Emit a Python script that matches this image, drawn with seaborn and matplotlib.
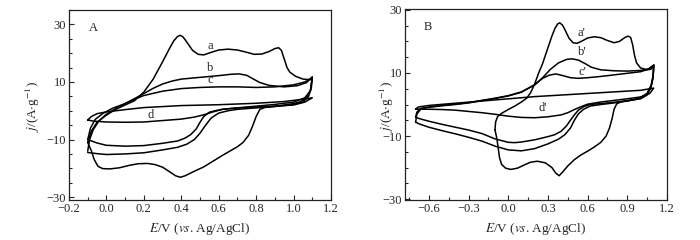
import numpy as np
import pandas as pd
import seaborn as sns
import matplotlib.pyplot as plt
from matplotlib.ticker import MultipleLocator, FixedLocator

# Panel A curves (closed CV loops: anodic sweep then cathodic sweep)
a_x = [-0.1, -0.08, -0.05, 0.0, 0.05, 0.1, 0.15, 0.2, 0.25, 0.3, 0.34, 0.36, 0.38, 0.395, 0.41, 0.43,
       0.46, 0.49, 0.52, 0.56, 0.6, 0.65, 0.7, 0.75, 0.79, 0.83, 0.87, 0.9, 0.92, 0.935, 0.95, 0.965,
       0.98, 1.01, 1.05, 1.09, 1.1,
       1.095, 1.08, 1.05, 1.0, 0.95, 0.9, 0.85, 0.82, 0.8, 0.78, 0.76, 0.73, 0.7, 0.66, 0.62, 0.57,
       0.52, 0.47, 0.42, 0.395, 0.37, 0.34, 0.3, 0.26, 0.22, 0.17, 0.12, 0.07, 0.02, -0.02, -0.045,
       -0.065, -0.08, -0.1]
a_y = [-11, -7, -4, -1.5, 0.5, 2, 3.5, 6.5, 11, 17, 22, 24.3, 25.8, 26.2, 25.6, 23.8,
       21, 19.6, 19.4, 20.3, 21.1, 21.4, 21.1, 20.3, 19.6, 19.7, 20.6, 21.6, 21.9, 21, 18, 15,
       13.4, 12, 11, 10.8, 11.5,
       8, 5, 3, 2.2, 1.8, 1.5, 1.2, 0.5, -2, -5.5, -8.5, -11, -12.5, -14, -15.5, -17.5,
       -19.5, -21, -22.6, -23.1, -22.6, -21.3, -19.6, -18.7, -18.3, -18.4, -19, -19.8, -20.2, -20.1, -19.3,
       -17, -14, -11]

b_x = [-0.1, -0.09, -0.07, -0.04, 0.0, 0.05, 0.1, 0.15, 0.2, 0.25, 0.3, 0.35, 0.4, 0.5, 0.6, 0.67,
       0.71, 0.75, 0.78, 0.82, 0.87, 0.95, 1.02, 1.07, 1.1,
       1.09, 1.07, 1.04, 1.0, 0.9, 0.8, 0.7, 0.65, 0.6, 0.56, 0.53, 0.5, 0.47, 0.43, 0.38, 0.3, 0.2,
       0.1, 0.0, -0.05, -0.1]
b_y = [-14, -10, -6.5, -3.5, -1.2, 0.8, 2.5, 4.2, 6, 7.8, 9.3, 10.3, 11, 11.6, 12.2, 12.7,
       12.8, 12.3, 11.2, 9.8, 8.8, 8.3, 8.7, 9.8, 11.8,
       7, 4.5, 3.2, 2.5, 1.5, 1, 0.5, 0, -0.8, -2.5, -5, -7.8, -10, -11.6, -12.7, -13.6, -14.6,
       -15, -15.2, -14.9, -14.5]

c_x = [-0.1, -0.085, -0.06, -0.02, 0.03, 0.1, 0.15, 0.2, 0.3, 0.4, 0.5, 0.6, 0.7, 0.8, 0.9, 1.0,
       1.06, 1.1,
       1.09, 1.06, 1.0, 0.9, 0.8, 0.7, 0.62, 0.58, 0.55, 0.52, 0.5, 0.48, 0.45, 0.42, 0.38, 0.3,
       0.2, 0.1, 0.0, -0.05, -0.1]
c_y = [-10, -6, -3, -1, 0.8, 2.5, 4, 5.3, 6.8, 7.7, 8.1, 8.3, 8.3, 8.1, 8.3, 9,
       10, 11.5,
       7, 4.5, 3, 2.2, 1.6, 1, 0.5, 0, -0.5, -2, -4, -6.3, -8.3, -9.5, -10.5, -11.3,
       -12.1, -12.3, -12, -11.2, -10]

d_x = [-0.1, -0.08, -0.05, 0.0, 0.1, 0.2, 0.4, 0.6, 0.8, 0.95, 1.05, 1.1,
       1.06, 1.0, 0.9, 0.8, 0.7, 0.62, 0.57, 0.52, 0.47, 0.4, 0.3, 0.2, 0.1, 0.0, -0.07, -0.1]
d_y = [-3.2, -2, -1, -0.4, 0.4, 1.1, 1.8, 2.1, 2.6, 3.2, 4, 4.5,
       3.0, 2.0, 1.6, 1.3, 1.0, 0.5, -0.4, -1.4, -2.2, -2.9, -3.4, -3.9, -4.0, -3.9, -3.6, -3.2]

# Panel B curves
a2_x = [-0.1, -0.095, -0.08, -0.05, 0.0, 0.05, 0.1, 0.14, 0.17, 0.2, 0.23, 0.26, 0.3, 0.33, 0.355,
        0.375, 0.39, 0.41, 0.43, 0.46, 0.49, 0.52, 0.56, 0.6, 0.65, 0.7, 0.75, 0.8, 0.84, 0.88,
        0.905, 0.925, 0.94, 0.955, 0.97, 1.0, 1.05, 1.08, 1.1,
        1.095, 1.08, 1.05, 1.0, 0.95, 0.9, 0.85, 0.82, 0.8, 0.785, 0.765, 0.74, 0.7, 0.65, 0.6,
        0.55, 0.5, 0.45, 0.41, 0.385, 0.36, 0.33, 0.28, 0.22, 0.17, 0.12, 0.07, 0.02, -0.02,
        -0.05, -0.065, -0.075, -0.085, -0.095, -0.1]
a2_y = [-8, -5.5, -3.8, -2.8, -1.6, -0.5, 0.8, 2, 3.8, 6.5, 10, 13, 18, 21.7, 24.3,
        25.6, 25.9, 25.2, 23.6, 21, 19.6, 19.4, 20.2, 21.1, 21.5, 21.2, 20.3, 19.6, 20, 21.2,
        21.7, 21.3, 19, 15.5, 13.2, 11.6, 11, 11.2, 12.5,
        9, 6, 3.5, 2.2, 1.5, 1.1, 0.8, 0.2, -1.5, -4.5, -7.5, -10, -12, -13.5, -14.8,
        -16, -17.5, -19.5, -21.5, -22.6, -21.8, -20, -18.5, -18, -18.3, -19.2, -20.2, -20.6, -20.2,
        -19, -17, -14, -11, -9, -8]

b2_x = [-0.7, -0.69, -0.66, -0.6, -0.5, -0.4, -0.3, -0.2, -0.1, 0.0, 0.1, 0.2, 0.26, 0.32, 0.38,
        0.44, 0.48, 0.53, 0.58, 0.63, 0.7, 0.8, 0.9, 1.0, 1.06, 1.1,
        1.095, 1.08, 1.05, 1.0, 0.9, 0.8, 0.7, 0.62, 0.57, 0.53, 0.5, 0.47, 0.43, 0.38, 0.3, 0.2,
        0.1, 0.0, -0.1, -0.2, -0.3, -0.4, -0.5, -0.6, -0.67, -0.7]
b2_y = [-5.6, -3, -1.4, -0.8, -0.3, 0.1, 0.6, 1.3, 2.0, 2.8, 4.0, 6.2, 8.5, 11.2, 13.2,
        14.3, 14.5, 14.1, 13, 11.8, 11, 10.7, 10.6, 10.8, 11.3, 12.5,
        9, 6, 3.5, 2, 1.2, 0.5, 0, -0.5, -1.5, -3, -5, -7.5, -9.5, -11, -12.5, -14,
        -14.7, -14.4, -13.2, -11.6, -10.4, -9.3, -8.3, -7.2, -6.2, -5.6]

c2_x = [-0.7, -0.69, -0.66, -0.6, -0.5, -0.4, -0.3, -0.2, -0.1, 0.0, 0.1, 0.2, 0.26, 0.31, 0.36,
        0.41, 0.47, 0.53, 0.6, 0.7, 0.8, 0.9, 1.0, 1.06, 1.1,
        1.095, 1.08, 1.05, 1.0, 0.9, 0.8, 0.7, 0.62, 0.57, 0.53, 0.5, 0.47, 0.44, 0.4, 0.35, 0.3,
        0.2, 0.1, 0.05, 0.0, -0.1, -0.2, -0.3, -0.4, -0.5, -0.6, -0.67, -0.7]
c2_y = [-4.0, -2.4, -1.2, -0.9, -0.4, 0.0, 0.5, 1.2, 1.9, 2.7, 3.9, 6.3, 8.3, 9.3, 9.7,
        9.2, 8.5, 8.3, 8.5, 8.9, 9.4, 9.9, 10.4, 11.2, 12.5,
        8.5, 5.5, 3, 1.8, 1.2, 0.7, 0.3, 0, -0.7, -1.8, -3.3, -5, -6.8, -8.5, -9.6, -10.2,
        -11.2, -11.9, -12.1, -12, -10.9, -9.2, -8.1, -7.2, -6.3, -5.3, -4.5, -4.0]

d2_x = [-0.7, -0.68, -0.6, -0.4, -0.2, 0.0, 0.2, 0.4, 0.6, 0.8, 1.0, 1.1,
        1.07, 1.0, 0.9, 0.8, 0.7, 0.6, 0.55, 0.5, 0.45, 0.4, 0.3, 0.2, 0.1, 0.0, -0.1, -0.2,
        -0.3, -0.4, -0.5, -0.6, -0.7]
d2_y = [-1.5, -0.8, -0.3, 0.4, 1.1, 1.8, 2.5, 3.0, 3.5, 4.0, 4.5, 5.2,
        3.5, 2.4, 1.8, 1.3, 0.8, 0.1, -0.7, -1.6, -2.6, -3.3, -3.9, -4.2, -4.1, -3.7, -3.1, -2.6,
        -2.2, -1.8, -1.6, -1.5, -1.5]

labels_A = ['a', 'b', 'c', 'd']
labels_B = ["a'", "b'", "c'", "d'"]

sns.set_style('ticks')
plt.rcParams['font.family'] = ['Liberation Serif', 'DejaVu Serif']
plt.rcParams['mathtext.fontset'] = 'stix'
plt.rcParams['axes.linewidth'] = 0.9

fig = plt.figure(figsize=(7, 2.4), dpi=100)
axA = fig.add_axes([69 / 700, 40 / 240, 262 / 700, 190 / 240])
axB = fig.add_axes([405 / 700, 40 / 240, 262 / 700, 191 / 240])

curvesA = [(a_x, a_y), (b_x, b_y), (c_x, c_y), (d_x, d_y)]
curvesB = [(a2_x, a2_y), (b2_x, b2_y), (c2_x, c2_y), (d2_x, d2_y)]

for ax, curves in [(axA, curvesA), (axB, curvesB)]:
    for xs, ys in curves:
        df = pd.DataFrame({'E': xs, 'j': ys})
        sns.lineplot(data=df, x='E', y='j', sort=False, estimator=None,
                     color='black', lw=1.1, ax=ax)

minus = lambda v, p: f'{v:.1f}'.replace('-', '\u2212')

# Panel A axes
axA.set_xlim(-0.2, 1.2)
axA.set_ylim(-31, 35)
axA.xaxis.set_major_locator(MultipleLocator(0.2))
axA.xaxis.set_minor_locator(MultipleLocator(0.1))
axA.xaxis.set_major_formatter(plt.FuncFormatter(minus))

# Panel B axes
axB.set_xlim(-0.78, 1.2)
axB.set_ylim(-30.3, 30.3)
axB.xaxis.set_major_locator(FixedLocator([-0.6, -0.3, 0.0, 0.3, 0.6, 0.9, 1.2]))
axB.xaxis.set_minor_locator(FixedLocator([-0.75, -0.45, -0.15, 0.15, 0.45, 0.75, 1.05]))
axB.xaxis.set_major_formatter(plt.FuncFormatter(minus))

for ax in (axA, axB):
    ax.yaxis.set_major_locator(FixedLocator([-30, -10, 10, 30]))
    ax.yaxis.set_minor_locator(MultipleLocator(5))
    ax.tick_params(which='both', direction='in', top=False, right=False,
                   labelsize=9, pad=2, width=0.8)
    ax.tick_params(which='major', length=3.5)
    ax.tick_params(which='minor', length=2)
    ax.set_xlabel(r'$E$/V ($vs$. Ag/AgCl)', fontsize=9.5)
    ax.set_ylabel(r'$j$/(A$\cdot$g$^{-1}$)', fontsize=9.5)
    ax.xaxis.set_label_coords(0.5, -0.11)
    for s in ax.spines.values():
        s.set_visible(True)
        s.set_color('#222222')

axA.yaxis.set_label_coords(-0.103, 0.49)
axB.yaxis.set_label_coords(-0.036, 0.49)

# Curve labels
axA.text(-0.07, 28.7, 'A', fontsize=9, ha='center', va='center')
for lab, (x, y) in zip(labels_A, [(0.555, 22.6), (0.555, 14.8), (0.555, 10.6), (0.235, -1.3)]):
    axA.text(x, y, lab, fontsize=9, ha='center', va='center')

axB.text(-0.61, 24.7, 'B', fontsize=9, ha='center', va='center')
for lab, (x, y) in zip(labels_B, [(0.55, 22.6), (0.56, 16.5), (0.56, 10.3), (0.26, -1.0)]):
    axB.text(x, y, lab, fontsize=9, ha='center', va='center')

fig.savefig('out.png', dpi=100)
